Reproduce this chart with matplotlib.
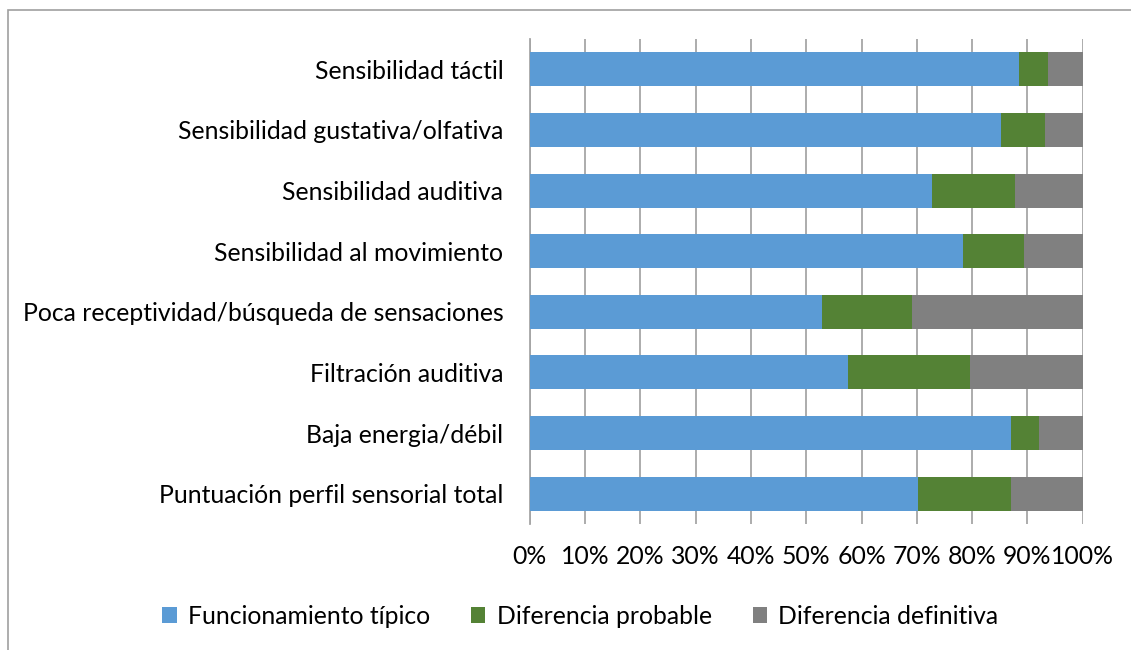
import matplotlib.pyplot as plt
import numpy as np
from matplotlib.patches import Rectangle, Patch

plt.rcParams['font.family'] = ['Lato', 'DejaVu Sans']

categorias = ["Sensibilidad táctil",
              "Sensibilidad gustativa/olfativa",
              "Sensibilidad auditiva",
              "Sensibilidad al movimiento",
              "Poca receptividad/búsqueda de sensaciones",
              "Filtración auditiva",
              "Baja energia/débil",
              "Puntuación perfil sensorial total"]
tipico = [88.4, 85.3, 72.7, 78.4, 52.8, 57.6, 87.1, 70.2]
probable = [5.4, 7.9, 15.1, 11.0, 16.3, 22.0, 5.0, 16.8]
definitiva = [100 - a - b for a, b in zip(tipico, probable)]
series = ["Funcionamiento típico", "Diferencia probable", "Diferencia definitiva"]
colores = ["#5B9BD5", "#548235", "#808080"]

fig = plt.figure(figsize=(11.31, 6.5), dpi=100)
ax = fig.add_axes([0.4685, 0.1938, 0.4888, 0.7462])

y = np.arange(len(categorias))
left = np.zeros(len(categorias))
for vals, col, name in zip([tipico, probable, definitiva], colores, series):
    ax.barh(y, vals, left=left, height=0.56, color=col, label=name, zorder=3)
    left = left + np.array(vals)

fs = 17.8
ax.set_xlim(0, 100)
ax.set_ylim(len(categorias) - 0.5, -0.5)
ax.set_yticks(y)
ax.set_yticklabels(categorias, fontsize=fs)
ax.set_xticks(np.arange(0, 101, 10))
ax.set_xticklabels([f"{v}%" for v in range(0, 101, 10)], fontsize=fs)
ax.tick_params(axis='y', length=0, pad=19)
ax.tick_params(axis='x', length=0, pad=15)
ax.grid(axis='x', color='#A6A6A6', linewidth=1.3, zorder=0)
for s in ['top', 'right', 'bottom']:
    ax.spines[s].set_visible(False)
ax.spines['left'].set_color('#A6A6A6')
ax.spines['left'].set_linewidth(1.3)

handles = [Patch(facecolor=c) for c in colores]
fig.legend(handles, series, loc='center', bbox_to_anchor=(0.513, 0.052), ncol=3,
           frameon=False, fontsize=fs, handlelength=0.6, handleheight=0.6,
           handletextpad=0.45, columnspacing=1.65)

fig.patches.append(Rectangle((8 / 1131, -0.1), 1.2, 1 - 10 / 650 + 0.1,
                             transform=fig.transFigure, fill=False,
                             edgecolor='#A0A0A0', linewidth=1.2))

fig.savefig("out.png")
